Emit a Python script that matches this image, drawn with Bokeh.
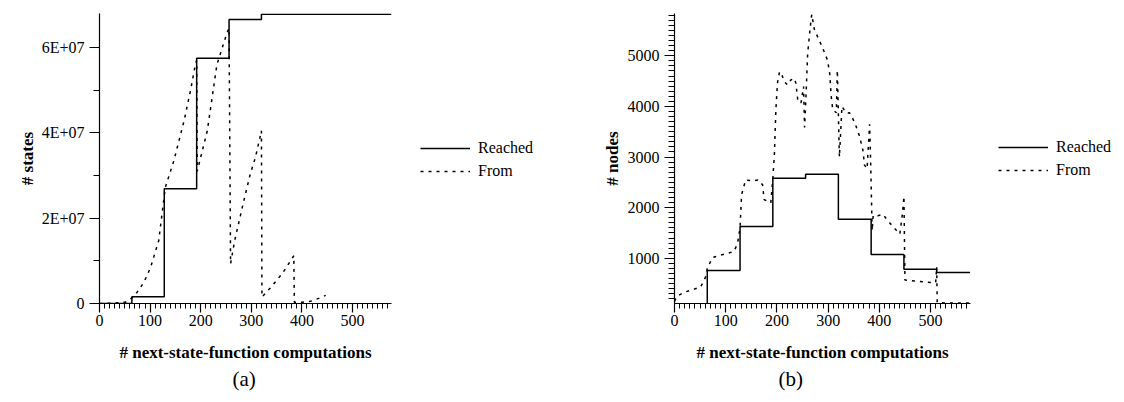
from bokeh.plotting import figure
from bokeh.models import FixedTicker, Legend, LegendItem, Title, Range1d
from bokeh.layouts import row
from bokeh.embed import file_html
from bokeh.resources import INLINE

# ---------------- data: panel (a) ----------------
a_reached_x = [0, 64, 128, 192, 256, 320, 577]
a_reached_y = [0, 1.6e6, 2.69e7, 5.75e7, 6.66e7, 6.78e7, 6.78e7]

a_from_x = [0, 30, 51, 64, 74, 88, 101, 117, 130, 147, 167, 180, 190, 192, 193,
            213, 232, 252, 256, 259, 267, 285, 298, 308, 320, 321, 338, 361, 384,
            385, 400, 417, 433, 447]
a_from_y = [0, 1e5, 3e5, 1.3e6, 2.6e6, 5e6, 8.5e6, 1.47e7, 2.72e7, 3.35e7, 4.28e7, 5.0e7, 5.64e7, 5.7e7, 3.1e7,
            4.05e7, 5.6e7, 6.35e7, 6.45e7, 9.3e6, 1.47e7, 2.4e7, 3.04e7, 3.42e7, 4.05e7, 1.5e6, 3.7e6, 7e6, 1.12e7,
            3e5, 3e5, 5e5, 1.2e6, 1.9e6]

a_yticks = [0, 2e7, 4e7, 6e7]
a_ytick_labels = ["0", "2E+07", "4E+07", "6E+07"]

# ---------------- data: panel (b) ----------------
b_reached_x = [0, 64, 128, 192, 256, 320, 384, 448, 512, 577]
b_reached_y = [1, 760, 1630, 2580, 2660, 1770, 1075, 785, 720, 720]

b_from_x = [0, 5, 18, 35, 51, 61, 64, 74, 90, 106,
            116, 123, 128, 131, 139, 152, 163, 172, 175, 184,
            188, 192, 195, 198, 201, 205, 209, 214, 221, 227,
            234, 237, 241, 247, 252, 254, 257, 260, 265, 268,
            273, 280, 290, 299, 303, 306, 309, 316, 318, 322,
            327, 335, 342, 352, 361, 368, 371, 376, 381, 383,
            386, 388, 397, 407, 417, 427, 440, 445, 448, 450,
            460, 480, 500, 510, 512, 513, 530, 550, 577]
b_from_y = [150, 249, 326, 379, 431, 637, 800, 1013, 1064, 1103,
            1136, 1285, 1608, 2256, 2548, 2528, 2548, 2450, 2160, 2113,
            2093, 2579, 3033, 3938, 4457, 4684, 4651, 4490, 4424, 4521,
            4554, 4457, 4101, 4068, 4393, 3583, 4263, 5039, 5558, 5816,
            5525, 5364, 5136, 4910, 4651, 4199, 3938, 3874, 4716, 3000,
            4000, 3870, 3874, 3680, 3420, 3130, 2840, 2770, 3647, 2900,
            1544, 1850, 1840, 1868, 1738, 1621, 1480, 1870, 2223, 573,
            560, 540, 520, 520, 831, 126, 115, 115, 115]

b_yticks = [1000, 2000, 3000, 4000, 5000]
b_ytick_labels = ["1000", "2000", "3000", "4000", "5000"]

x_ticks = [0, 100, 200, 300, 400, 500]
x_title = "# next-state-function computations"
series_labels = ["Reached", "From"]

SERIF = "Liberation Serif"
H = 395
DASH = "3 5"


def style(p, ylabel, ystandoff):
    p.outline_line_color = None
    p.xgrid.visible = False
    p.ygrid.visible = False
    for ax in (p.xaxis[0], p.yaxis[0]):
        ax.axis_line_color = "black"
        ax.axis_line_width = 1.2
        ax.major_tick_line_color = "black"
        ax.minor_tick_line_color = "black"
        ax.major_tick_line_width = 1.2
        ax.minor_tick_line_width = 1
        ax.major_label_text_font = SERIF
        ax.major_label_text_font_size = "16px"
        ax.major_label_text_color = "black"
        ax.axis_label_text_font = SERIF
        ax.axis_label_text_font_style = "bold"
        ax.axis_label_text_font_size = "17px"
        ax.axis_label_text_color = "black"
        ax.major_tick_in = 0
        ax.minor_tick_in = 0
    p.xaxis.axis_label = x_title
    p.yaxis.axis_label = ylabel
    p.xaxis.major_tick_out = 9
    p.xaxis.minor_tick_out = 5
    p.yaxis.major_tick_out = 10
    p.yaxis.minor_tick_out = 6
    p.xaxis.major_label_standoff = 2
    p.xaxis.axis_label_standoff = 14
    p.yaxis.major_label_standoff = 5
    p.yaxis.axis_label_standoff = ystandoff
    p.xaxis.ticker = FixedTicker(ticks=x_ticks, minor_ticks=list(range(0, 580, 10)))


def legend_fig(width, x, y, xs, ys_reached, ys_from):
    # legend-only figure: the series are drawn on a range that keeps them out of view,
    # so only the legend (with its line samples) is visible
    f = figure(width=width, height=H, output_backend="svg", toolbar_location=None,
               x_range=Range1d(0, 1), y_range=Range1d(-2, -1),
               x_axis_location=None, y_axis_location=None, min_border=0)
    f.outline_line_color = None
    f.xgrid.visible = False
    f.ygrid.visible = False
    r1 = f.line(xs, ys_reached, line_color="black", line_width=1.5)
    r2 = f.line(xs, ys_from, line_color="black", line_width=1.5, line_dash=DASH)
    leg = Legend(items=[LegendItem(label=series_labels[0], renderers=[r1]),
                        LegendItem(label=series_labels[1], renderers=[r2])],
                 location=(x, y))
    leg.border_line_color = None
    leg.background_fill_alpha = 0
    leg.padding = 0
    leg.margin = 0
    leg.spacing = 5
    leg.glyph_width = 50
    leg.glyph_height = 16
    leg.label_standoff = 8
    leg.label_text_font = SERIF
    leg.label_text_font_size = "16px"
    leg.label_text_color = "black"
    f.add_layout(leg, "center")
    return f


# ---------------- panel (a) ----------------
p1 = figure(width=400, height=H, output_backend="svg", toolbar_location=None,
            x_range=Range1d(0, 577), y_range=Range1d(0, 6.8e7),
            min_border_left=99, min_border_right=9, min_border_top=13, min_border_bottom=92)
style(p1, "# states", 2)
p1.yaxis.ticker = FixedTicker(ticks=a_yticks, minor_ticks=[1e7, 3e7, 5e7])
p1.yaxis.major_label_overrides = {t: s for t, s in zip(a_yticks, a_ytick_labels)}
p1.step(a_reached_x, a_reached_y, mode="after", line_color="black", line_width=1.5)
p1.line(a_from_x, a_from_y, line_color="black", line_width=1.5, line_dash=DASH)
p1.add_layout(Title(text="(a)", align="left", offset=133, standoff=1, text_font=SERIF,
                    text_font_size="21px", text_font_style="normal", text_color="black"), "below")
l1 = legend_fig(160, 20, 123, a_reached_x[:2], a_reached_y[:2], a_from_y[:2])

# ---------------- panel (b) ----------------
p2 = figure(width=420, height=H, output_backend="svg", toolbar_location=None,
            x_range=Range1d(0, 578), y_range=Range1d(107, 5835),
            min_border_left=114, min_border_right=10, min_border_top=9, min_border_bottom=91)
style(p2, "# nodes", 3)
p2.yaxis.ticker = FixedTicker(ticks=b_yticks, minor_ticks=list(range(200, 5900, 100)))
p2.yaxis.major_label_overrides = {t: s for t, s in zip(b_yticks, b_ytick_labels)}
p2.step(b_reached_x, b_reached_y, mode="after", line_color="black", line_width=1.5)
p2.line(b_from_x, b_from_y, line_color="black", line_width=1.5, line_dash=DASH)
p2.add_layout(Title(text="(b)", align="left", offset=104, standoff=1, text_font=SERIF,
                    text_font_size="21px", text_font_style="normal", text_color="black"), "below")
l2 = legend_fig(140, 18, 124, b_reached_x[:2], b_reached_y[:2], b_from_y[:2])

layout = row(p1, l1, p2, l2)
open("out.html", "w").write(file_html(layout, INLINE))
